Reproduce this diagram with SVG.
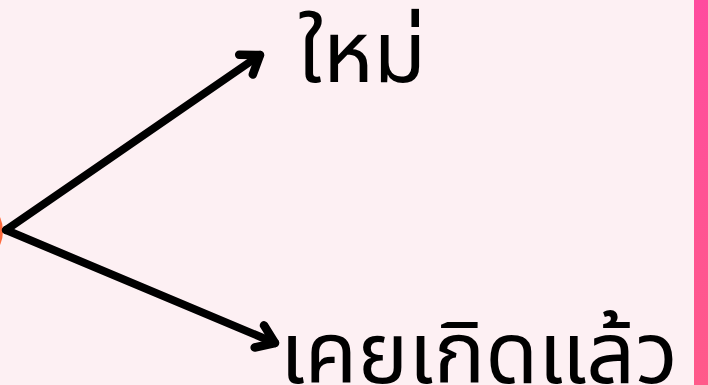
<svg xmlns="http://www.w3.org/2000/svg" width="708" height="385" viewBox="0 0 708 385">
<defs>
<linearGradient id="bar" x1="0" y1="0" x2="0" y2="1">
<stop offset="0" stop-color="#ff4c9e"/>
<stop offset="1" stop-color="#ff5a8a"/>
</linearGradient>
<marker id="ah" viewBox="-26 -20 32 40" refX="0" refY="0" markerWidth="32" markerHeight="40" markerUnits="userSpaceOnUse" orient="auto">
<path d="M-17,-12 L0,0 L-17,12" fill="none" stroke="#000" stroke-width="8.5" stroke-linecap="round" stroke-linejoin="round"/>
</marker>
<style>
.lbl{font-family:"Noto Sans Thai","Noto Sans","DejaVu Sans",sans-serif;font-size:86px;fill:#000}
.edge{stroke:#000;stroke-width:8;fill:none;stroke-linecap:round;marker-end:url(#ah)}
</style>
</defs>
<rect width="708" height="385" fill="#fdf0f3"/>
<rect x="694" y="0" width="14" height="385" fill="url(#bar)"/>
<g id="source"><circle cx="-31" cy="231" r="34" fill="#ff6a3d"/></g>
<g id="connectors">
<line class="edge" x1="6" y1="230" x2="260" y2="55"/>
<line class="edge" x1="6" y1="230" x2="275" y2="343"/>
</g>
<g id="node-new"><text class="lbl" x="298" y="82">ใหม่</text></g>
<g id="node-old"><text class="lbl" x="280" y="383">เคยเกิดแล้ว</text></g>
</svg>
